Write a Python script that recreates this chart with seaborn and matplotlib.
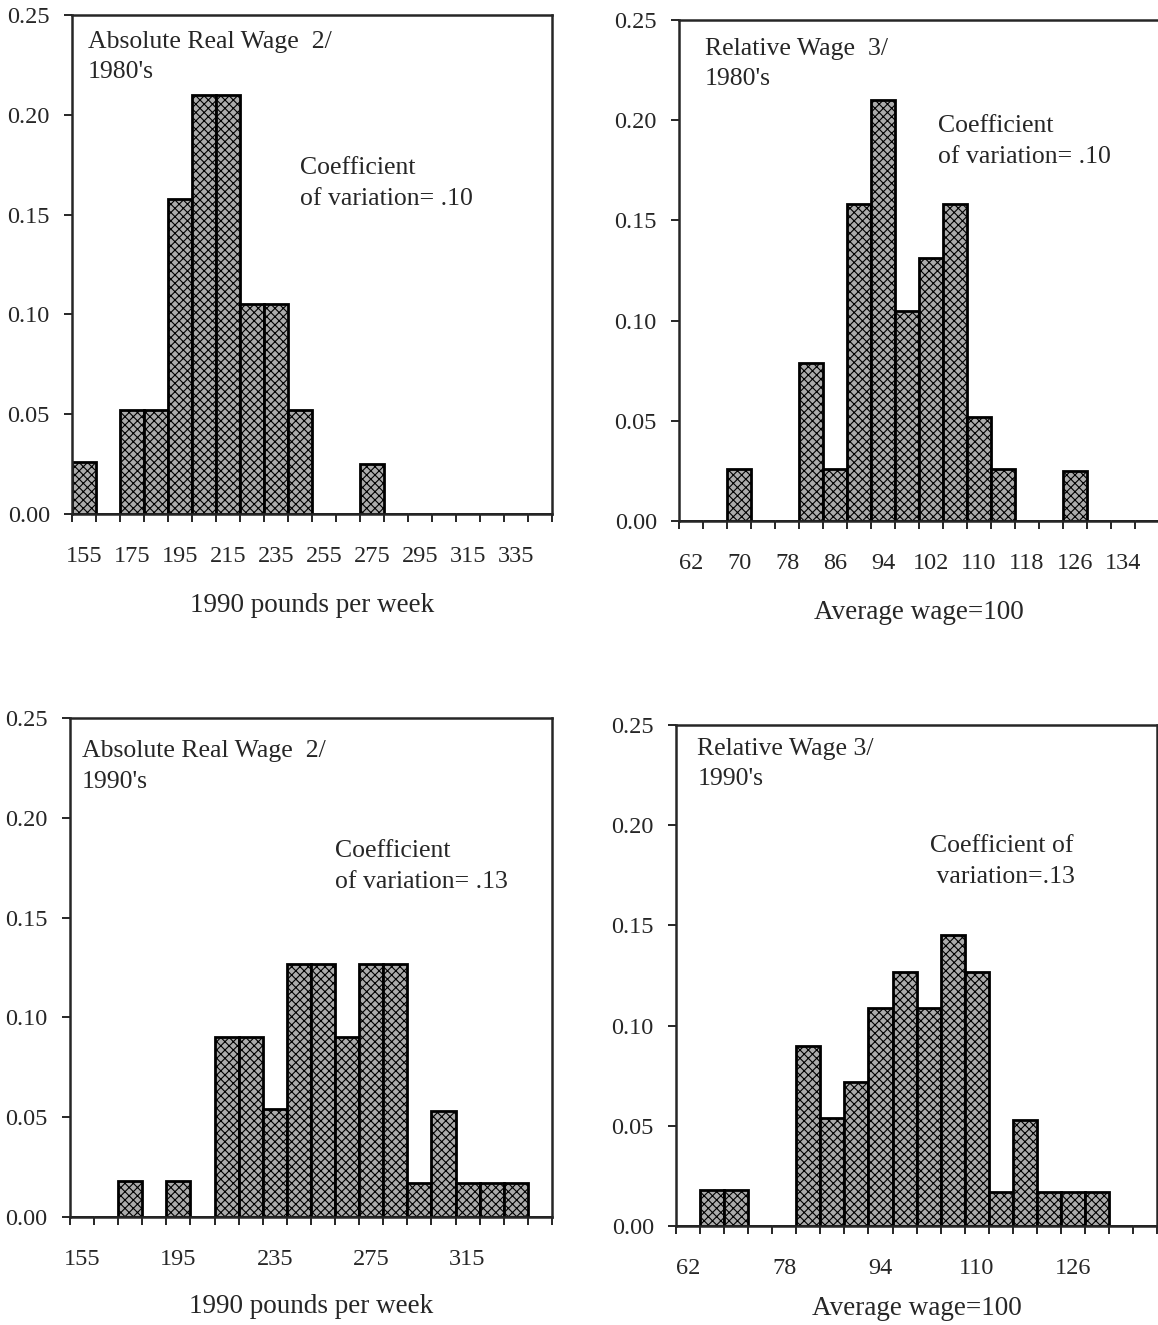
import numpy as np
import pandas as pd
import matplotlib
matplotlib.use('Agg')
import matplotlib.pyplot as plt
import seaborn as sns

# share of regions in each wage bin (bin centres)
abs80_bins = [155, 175, 185, 195, 205, 215, 225, 235, 245, 275]
abs80_share = [0.026, 0.052, 0.052, 0.158, 0.210, 0.210, 0.105, 0.105, 0.052, 0.025]

rel80_bins = [70, 82, 86, 90, 94, 98, 102, 106, 110, 114, 126]
rel80_share = [0.026, 0.079, 0.026, 0.158, 0.210, 0.105, 0.131, 0.158, 0.052, 0.026, 0.025]

abs90_bins = [175, 195, 215, 225, 235, 245, 255, 265, 275, 285, 295, 305, 315, 325, 335]
abs90_share = [0.018, 0.018, 0.090, 0.090, 0.054, 0.127, 0.127, 0.090, 0.127, 0.127,
               0.017, 0.053, 0.017, 0.017, 0.017]

rel90_bins = [66, 70, 82, 86, 90, 94, 98, 102, 106, 110, 114, 118, 122, 126, 130]
rel90_share = [0.018, 0.018, 0.090, 0.054, 0.072, 0.109, 0.127, 0.109, 0.145, 0.127,
               0.017, 0.053, 0.017, 0.017, 0.017]

abs_edges = list(range(150, 351, 10))
rel_edges = list(range(60, 141, 4))

abs80_labels = [155, 175, 195, 215, 235, 255, 275, 295, 315, 335]
rel80_labels = [62, 70, 78, 86, 94, 102, 110, 118, 126, 134]
abs90_labels = [155, 195, 235, 275, 315]
rel90_labels = [62, 78, 94, 110, 126]

sns.set_style('ticks')
plt.rcParams['font.family'] = ['Liberation Serif', 'DejaVu Serif']
plt.rcParams['hatch.linewidth'] = 0.8

fig = plt.figure(figsize=(11.58, 13.25), dpi=100)

panels = [
    # bins, shares, edges, labels, title, cv text, rect, title pos, cv pos, xlabel, labelpad
    (abs80_bins, abs80_share, abs_edges, abs80_labels, "Absolute Real Wage  2/\n1980's",
     "Coefficient\nof variation= .10", [0.0622, 0.6121, 0.4145, 0.3766], (0.033, 0.968), (0.475, 0.715),
     '1990 pounds per week', 19),
    (rel80_bins, rel80_share, rel_edges, rel80_labels, "Relative Wage  3/\n1980's",
     "Coefficient\nof variation= .10", [0.5864, 0.6068, 0.4145, 0.3781], (0.054, 0.965), (0.54, 0.81),
     'Average wage=100', 19),
    (abs90_bins, abs90_share, abs_edges, abs90_labels, "Absolute Real Wage  2/\n1990's",
     "Coefficient\nof variation= .13", [0.0604, 0.0815, 0.4162, 0.3766], (0.025, 0.955), (0.55, 0.755),
     '1990 pounds per week', 17),
    (rel90_bins, rel90_share, rel_edges, rel90_labels, "Relative Wage 3/\n1990's",
     "Coefficient of\n variation=.13", [0.5838, 0.0747, 0.4154, 0.3781], (0.044, 0.975), (0.528, 0.78),
     'Average wage=100', 12),
]

for bins, share, edges, labels, title, cv, rect, tpos, cpos, xlab, lpad in panels:
    ax = fig.add_axes(rect)
    df = pd.DataFrame({'wage': bins, 'share': share})
    sns.histplot(data=df, x='wage', weights='share', bins=edges, stat='count', ax=ax,
                 color='#ababab', edgecolor='black', linewidth=2.0, alpha=1)
    for p in ax.patches:
        p.set_hatch('xxxx')

    ax.set_xlim(edges[0], edges[-1])
    ax.set_ylim(0, 0.25)
    ax.set_yticks([0, 0.05, 0.10, 0.15, 0.20, 0.25])
    ax.set_yticklabels(['0.00', '0.05', '0.10', '0.15', '0.20', '0.25'])
    ax.set_xticks(edges)
    ax.set_xticklabels([])
    ax.set_xticks(labels, minor=True)
    ax.set_xticklabels([str(v) for v in labels], minor=True)
    ax.tick_params(axis='x', which='major', length=6, width=1.4, direction='out')
    ax.tick_params(axis='x', which='minor', length=0, pad=23, labelsize=17.5)
    ax.tick_params(axis='y', length=6, width=1.4, pad=10, labelsize=17.5)
    ax.set_xlabel(xlab, fontsize=19.5, labelpad=lpad)
    ax.set_ylabel('')
    for s in ax.spines.values():
        s.set_linewidth(1.8)
        s.set_visible(True)

    ax.text(tpos[0], tpos[1], title, transform=ax.transAxes, ha='left', va='top',
            fontsize=18.5, linespacing=1.5)
    ax.text(cpos[0], cpos[1], cv, transform=ax.transAxes, ha='left', va='top',
            fontsize=18.5, linespacing=1.5)

fig.savefig('out.png', dpi=100)
